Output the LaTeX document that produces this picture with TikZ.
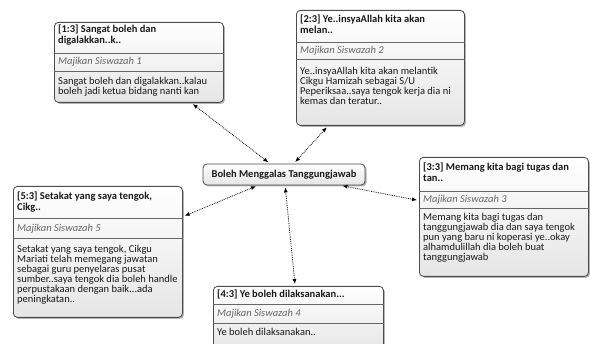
\documentclass[tikz,border=0pt]{standalone}
\usepackage{fontspec}
\setmainfont{Carlito}
\usetikzlibrary{shadows,arrows.meta}

\begin{document}
\begin{tikzpicture}[x=1pt, y=-1pt,
        kotak/.style = {draw=black!70, line width=0.8pt,
            rounded corners=4pt,
            top color=white, bottom color=black!10,
            drop shadow={shadow xshift=1.5pt, shadow yshift=-1.5pt,
                fill=black!50, opacity=0.6},
            anchor=north west, inner sep=0pt},
        garis/.style = {draw=black!60, line width=0.7pt},
        judul/.style = {anchor=base west, inner sep=0pt, align=left,
            font=\fontsize{10.5}{11}\selectfont\bfseries, text=black!90},
        subjudul/.style = {anchor=base west, inner sep=0pt,
            font=\fontsize{10.5}{10}\selectfont\itshape, text=black!60},
        isi/.style = {anchor=base west, inner sep=0pt, align=left,
            font=\fontsize{10.5}{10}\selectfont, text=black!90},
        panah/.style = {densely dotted, line width=0.8pt,
            {Latex[length=5pt,width=4pt]}-{Latex[length=5pt,width=4pt]},
            shorten <=2pt, shorten >=2pt}]

        \useasboundingbox (0,0) rectangle (590,344);

        % Central node
        \node[kotak, anchor=center, minimum width=162pt, minimum height=21pt,
            font=\fontsize{10.5}{11}\selectfont\bfseries, text=black!90] (pusat) at (284,174.5) {Boleh Menggalas Tanggungjawab};

        % Box 1 (base anchors sit on the last line)
        \node[kotak, minimum width=169pt, minimum height=80pt] (kotak1) at (54,22) {};
        \draw[garis] ([yshift=-31pt]kotak1.north west) -- ([yshift=-31pt]kotak1.north east);
        \draw[garis] ([yshift=-49pt]kotak1.north west) -- ([yshift=-49pt]kotak1.north east);
        \node[judul] (judul1) at ([shift={(4pt,-22pt)}]kotak1.north west) {[1:3] Sangat boleh dan\\digalakkan..k..};
        \node[subjudul] (sub1) at ([shift={(4pt,-43pt)}]kotak1.north west) {Majikan Siswazah 1};
        \node[isi] (isi1) at ([shift={(4pt,-72.5pt)}]kotak1.north west) {Sangat boleh dan digalakkan..kalau\\boleh jadi ketua bidang nanti kan};

        % Box 2
        \node[kotak, minimum width=168pt, minimum height=115pt] (kotak2) at (296,10) {};
        \draw[garis] ([yshift=-32pt]kotak2.north west) -- ([yshift=-32pt]kotak2.north east);
        \draw[garis] ([yshift=-49pt]kotak2.north west) -- ([yshift=-49pt]kotak2.north east);
        \node[judul] (judul2) at ([shift={(4pt,-24pt)}]kotak2.north west) {[2:3] Ye..insyaAllah kita akan\\melan..};
        \node[subjudul] (sub2) at ([shift={(4pt,-44pt)}]kotak2.north west) {Majikan Siswazah 2};
        \node[isi] (isi2) at ([shift={(4pt,-95pt)}]kotak2.north west) {Ye..insyaAllah kita akan melantik\\Cikgu Hamizah sebagai S/U\\Peperiksaa..saya tengok kerja dia ni\\kemas dan teratur..};

        % Box 3
        \node[kotak, minimum width=169pt, minimum height=119pt] (kotak3) at (419,157) {};
        \draw[garis] ([yshift=-34pt]kotak3.north west) -- ([yshift=-34pt]kotak3.north east);
        \draw[garis] ([yshift=-51pt]kotak3.north west) -- ([yshift=-51pt]kotak3.north east);
        \node[judul] (judul3) at ([shift={(4pt,-25pt)}]kotak3.north west) {[3:3] Memang kita bagi tugas dan\\tan..};
        \node[subjudul] (sub3) at ([shift={(4pt,-46pt)}]kotak3.north west) {Majikan Siswazah 3};
        \node[isi] (isi3) at ([shift={(4pt,-104pt)}]kotak3.north west) {Memang kita bagi tugas dan\\tanggungjawab dia dan saya tengok\\pun yang baru ni koperasi ye..okay\\alhamdulillah dia boleh buat\\tanggungjawab};

        % Box 4
        \node[kotak, minimum width=170pt, minimum height=64pt] (kotak4) at (213,286) {};
        \draw[garis] ([yshift=-18pt]kotak4.north west) -- ([yshift=-18pt]kotak4.north east);
        \draw[garis] ([yshift=-37pt]kotak4.north west) -- ([yshift=-37pt]kotak4.north east);
        \node[judul] (judul4) at ([shift={(4pt,-12pt)}]kotak4.north west) {[4:3] Ye boleh dilaksanakan...};
        \node[subjudul] (sub4) at ([shift={(4pt,-31pt)}]kotak4.north west) {Majikan Siswazah 4};
        \node[isi] (isi4) at ([shift={(4pt,-50pt)}]kotak4.north west) {Ye boleh dilaksanakan..};

        % Box 5
        \node[kotak, minimum width=169pt, minimum height=131pt] (kotak5) at (13,186) {};
        \draw[garis] ([yshift=-32pt]kotak5.north west) -- ([yshift=-32pt]kotak5.north east);
        \draw[garis] ([yshift=-52pt]kotak5.north west) -- ([yshift=-52pt]kotak5.north east);
        \node[judul] (judul5) at ([shift={(4pt,-25pt)}]kotak5.north west) {[5:3] Setakat yang saya tengok,\\Cikg..};
        \node[subjudul] (sub5) at ([shift={(4pt,-46pt)}]kotak5.north west) {Majikan Siswazah 5};
        \node[isi] (isi5) at ([shift={(4pt,-117pt)}]kotak5.north west) {Setakat yang saya tengok, Cikgu\\Mariati telah memegang jawatan\\sebagai guru penyelaras pusat\\sumber..saya tengok dia boleh handle\\perpustakaan dengan baik...ada\\peningkatan..};

        % Connectors
        \draw[panah] (kotak1) -- (pusat);
        \draw[panah] (kotak2) -- (pusat);
        \draw[panah] (kotak3) -- (pusat);
        \draw[panah] (kotak4) -- (pusat);
        \draw[panah] (kotak5) -- (pusat);

    \end{tikzpicture}
\end{document}
